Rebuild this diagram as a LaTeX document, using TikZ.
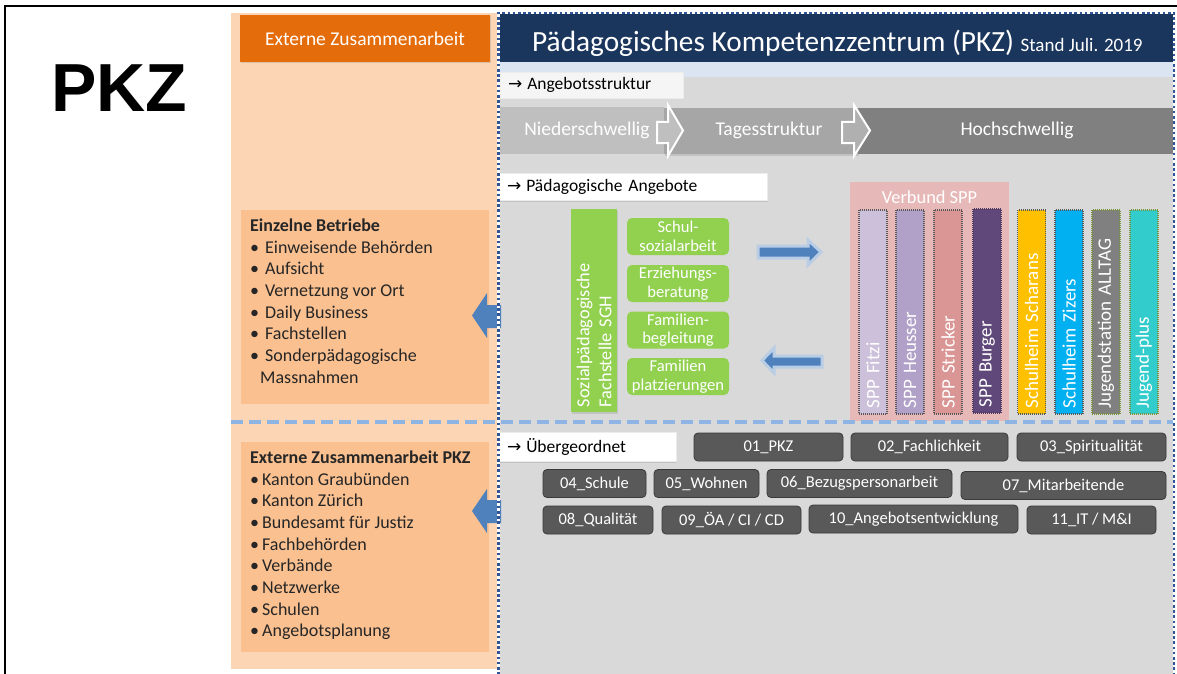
\documentclass[tikz,border=0pt]{standalone}
\usepackage{fontspec}
\setmainfont{Carlito}
\newfontfamily\arialb{Liberation Sans}
\newfontfamily\arrfont{DejaVu Sans}
\usetikzlibrary{shadows}
\newcommand\fs[2]{\fontsize{#1}{#2}\selectfont}
\newcommand\ar{{\arrfont\fs{17}{19}→}\hspace{5pt}}
\definecolor{peach}{HTML}{FCD5B5}
\definecolor{orangehd}{HTML}{E46C0A}
\definecolor{orangebx}{HTML}{FAC090}
\definecolor{navy}{HTML}{1B365D}
\definecolor{bandblue}{HTML}{DBE5F1}
\definecolor{bggray}{HTML}{D9D9D9}
\definecolor{segA}{HTML}{BFBFBF}
\definecolor{segB}{HTML}{A6A6A6}
\definecolor{segC}{HTML}{808080}
\definecolor{grn}{HTML}{92D050}
\definecolor{arrblue}{HTML}{4F81BD}
\definecolor{glowblue}{HTML}{B9CDE5}
\definecolor{tagfill}{HTML}{595959}
\definecolor{tagline}{HTML}{3A3A3A}
\definecolor{dashblue}{HTML}{8EB4E3}
\definecolor{dotblue}{HTML}{2F5597}
\definecolor{pinkbx}{HTML}{E6B9B8}
\definecolor{cFitzi}{HTML}{CCC0DA}
\definecolor{cHeusser}{HTML}{B1A0C7}
\definecolor{cStricker}{HTML}{DA9694}
\definecolor{cBurger}{HTML}{60497A}
\definecolor{cScharans}{HTML}{FFC000}
\definecolor{cZizers}{HTML}{00B0F0}
\definecolor{cAlltag}{HTML}{808080}
\definecolor{cJplus}{HTML}{33CCCC}
\definecolor{dotgray}{HTML}{595959}
\definecolor{dotgreen}{HTML}{77933C}
\tikzset{
  softshadow/.style={drop shadow={opacity=0.25,shadow xshift=1.2pt,shadow yshift=-1.5pt}},
  headbox/.style={rectangle,inner sep=0pt,text=white},
  labelbox/.style={rectangle,fill=white,draw=white!85!gray,line width=0.6pt,inner ysep=0pt,inner xsep=8pt,align=left,font=\fs{17.5}{19},softshadow},
  greenbox/.style={rectangle,rounded corners=5pt,fill=grn,text=white,minimum width=102pt,minimum height=37pt,inner sep=0pt,align=center,font=\fs{16.6}{18.5}},
  bar/.style={rectangle,rotate=90,minimum height=28pt,text width=193pt,inner xsep=5.5pt,inner ysep=0pt,align=left,text=white,font=\fs{19}{21},line width=1.4pt,dash pattern=on 1pt off 1pt},
  tag/.style={rectangle,rounded corners=4pt,fill=tagfill,draw=tagline,line width=0.8pt,text=white,minimum height=28pt,inner sep=0pt,font=\fs{16.5}{18}},
  segtext/.style={text=white,font=\fs{19.5}{21},inner sep=0pt},
  leftbox/.style={rectangle,fill=orangebx,inner sep=0pt},
  listtext/.style={anchor=north west,align=left,inner sep=0pt,font=\fs{18}{21.7},text=black!85}
}
\begin{document}
\begin{tikzpicture}[x=1pt,y=-1pt]
\useasboundingbox (0,0) rectangle (1177,674);
\fill[white] (0,0) rectangle (1177,674);
% frame
\draw[line width=2pt,black] (5,674) -- (5,6) -- (1177,6);
% PKZ
\node[inner sep=0pt,font=\arialb\bfseries\fs{68}{70}] (pkz) at (119,88) {PKZ};
% left panel
\fill[peach] (231,13) rectangle (497,669);
\node[headbox,fill=orangehd,minimum width=250pt,minimum height=47pt,font=\fs{19.5}{21},softshadow] (extern) at (365,38.5) {Externe Zusammenarbeit};
\node[leftbox,minimum width=248pt,minimum height=194pt] (betriebe) at (365,307) {};
\node[listtext] (betriebetext) at (250,218.5) {\textbf{Einzelne Betriebe}\\
\textbullet\hspace{6pt}Einweisende Behörden\\
\textbullet\hspace{6pt}Aufsicht\\
\textbullet\hspace{6pt}Vernetzung vor Ort\\
\textbullet\hspace{6pt}Daily Business\\
\textbullet\hspace{6pt}Fachstellen\\
\textbullet\hspace{6pt}Sonderpädagogische\\
\hspace*{10pt}Massnahmen};
\node[leftbox,minimum width=248pt,minimum height=210pt] (externpkz) at (365,547) {};
\node[listtext] (externpkztext) at (250,450.5) {\textbf{Externe Zusammenarbeit PKZ}\\
\textbullet\hspace{3pt}Kanton Graubünden\\
\textbullet\hspace{3pt}Kanton Zürich\\
\textbullet\hspace{3pt}Bundesamt für Justiz\\
\textbullet\hspace{3pt}Fachbehörden\\
\textbullet\hspace{3pt}Verbände\\
\textbullet\hspace{3pt}Netzwerke\\
\textbullet\hspace{3pt}Schulen\\
\textbullet\hspace{3pt}Angebotsplanung};
% main region
\fill[bggray] (499,62) rectangle (1174,674);
\fill[bandblue] (499,62) rectangle (1174,77);
\node[headbox,fill=navy,minimum width=675pt,minimum height=48pt] (header) at (836.5,38) {};
\node[anchor=base west,inner sep=0pt,text=white] (title) at (532,51.5) {\fs{29.3}{31}Pädagogisches Kompetenzzentrum (PKZ) \fs{19}{21}Stand Juli. 2019};
% chevron row
\fill[segA] (499,107) rectangle (664,154);
\fill[segB,softshadow] (664,108) rectangle (858,154);
\fill[segC] (858,108) rectangle (1174,154);
\draw[white,line width=2pt,fill=segA,line join=miter] (657,122) -- (668,122) -- (668,105) -- (683,130.5) -- (668,156) -- (668,143) -- (657,143) -- cycle;
\draw[white,line width=2pt,fill=segA!92!black,line join=miter] (842,122) -- (854,122) -- (854,105) -- (870,130.5) -- (854,156) -- (854,143) -- (842,143) -- cycle;
\node[segtext] (nieder) at (587,130.5) {Niederschwellig};
\node[segtext] (tages) at (769,130.5) {Tagesstruktur};
\node[segtext] (hoch) at (1017,130.5) {Hochschwellig};
\node[labelbox,fill=white!92!gray,text width=167pt,minimum height=26pt] (angebotsstruktur) at (591.5,85) {\ar Angebotsstruktur};
% paedagogische Angebote
\node[labelbox,text width=252pt,minimum height=27pt] (paedangebote) at (633,186.5) {\ar Pädagogische Angebote};
\node[rectangle,fill=grn,rotate=90,minimum height=46pt,text width=193pt,inner xsep=5pt,inner ysep=0pt,align=left,text=white,font=\fs{18.3}{22},softshadow] (sgh) at (594,310.5) {Sozialpädagogische\\Fachstelle SGH};
\node[greenbox] (schul) at (678,236.5) {Schul-\\sozialarbeit};
\node[greenbox] (erz) at (678,283.5) {Erziehungs-\\beratung};
\node[greenbox] (fambeg) at (678,330) {Familien-\\begleitung};
\node[greenbox] (famplatz) at (678,376.5) {Familien\\platzierungen};
% middle arrows
\draw[glowblue,line width=3pt,fill=arrblue,line join=miter] (758,246) -- (808,246) -- (808,240) -- (821,252) -- (808,265) -- (808,258) -- (758,258) -- cycle;
\draw[glowblue,line width=3pt,fill=arrblue,line join=miter] (822,356) -- (774,356) -- (774,348) -- (762,360.5) -- (774,373) -- (774,367) -- (822,367) -- cycle;
% Verbund SPP
\node[rectangle,fill=pinkbx,minimum width=159pt,minimum height=239pt,inner sep=0pt] (verbund) at (929.5,301.5) {};
\node[text=white,font=\fs{18.4}{20},inner sep=0pt] (verbundtext) at (929.5,197) {Verbund SPP};
\node[bar,fill=cFitzi,draw=dotgray] (fitzi) at (873,312) {SPP Fitzi};
\node[bar,fill=cHeusser,draw=dotgray] (heusser) at (910,312) {SPP Heusser};
\node[bar,fill=cStricker,draw=dotgray] (stricker) at (948,312) {SPP Stricker};
\node[bar,fill=cBurger,draw=cBurger!80!black] (burger) at (987,311) {SPP Burger};
\node[bar,fill=cScharans,draw=dotgray] (scharans) at (1031.5,312) {Schulheim Scharans};
\node[bar,fill=cZizers,draw=dotgray] (zizers) at (1069,312) {Schulheim Zizers};
\node[bar,fill=cAlltag,draw=dotgreen] (alltag) at (1106,312) {Jugendstation ALLTAG};
\node[bar,fill=cJplus,draw=dotgreen] (jplus) at (1144,312) {Jugend-plus};
% dashed divider
\draw[dashblue,line width=3.5pt,dash pattern=on 12pt off 6pt] (231,422) -- (1174,422);
% left blue arrows
\fill[arrblue] (472,315.5) -- (487,293) -- (487,305) -- (501,305) -- (501,328) -- (487,328) -- (487,338) -- cycle;
\fill[arrblue] (472,511) -- (487,489) -- (487,500) -- (501,500) -- (501,523) -- (487,523) -- (487,533) -- cycle;
% Uebergeordnet
\node[labelbox,text width=161pt,minimum height=29pt] (ueber) at (587.5,446.5) {\ar \"Ubergeordnet};
\node[tag,minimum width=149pt] (t01) at (768.5,447) {01\_PKZ};
\node[tag,minimum width=157pt] (t02) at (929.5,447) {02\_Fachlichkeit};
\node[tag,minimum width=149pt] (t03) at (1091.5,447) {03\_Spiritualität};
\node[tag,minimum width=103pt] (t04) at (594.5,483.5) {04\_Schule};
\node[tag,minimum width=105pt] (t05) at (706.5,483.5) {05\_Wohnen};
\node[tag,minimum width=185pt] (t06) at (859.5,483.5) {06\_Bezugspersonarbeit};
\node[tag,minimum width=205pt] (t07) at (1063.5,485.5) {07\_Mitarbeitende};
\node[tag,minimum width=110pt] (t08) at (598,520) {08\_Qualität};
\node[tag,minimum width=139pt] (t09) at (731.5,520) {09\_ÖA / CI / CD};
\node[tag,minimum width=209pt] (t10) at (913.5,519) {10\_Angebotsentwicklung};
\node[tag,minimum width=129pt] (t11) at (1091.5,520) {11\_IT / M\&I};
% dotted border of main region
\draw[white,line width=3pt] (498.5,680) -- (498.5,13) -- (1174,13) -- (1174,680);
\draw[dotblue,line width=2.6pt,dash pattern=on 2.6pt off 2.6pt] (498.5,680) -- (498.5,13) -- (1174,13) -- (1174,680);
\end{tikzpicture}
\end{document}
